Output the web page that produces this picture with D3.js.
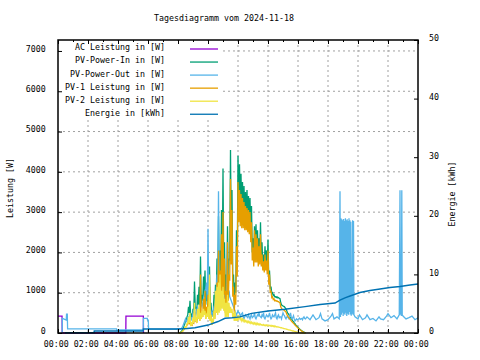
<!DOCTYPE html>
<html><head><meta charset="utf-8">
<script src="https://cdn.jsdelivr.net/npm/d3@7"></script>
<style>
body{margin:0;background:#fff}
text{font-family:"DejaVu Sans Mono",monospace;font-size:8.3px;fill:#000}
</style>
</head><body>
<svg id="c" width="480" height="360"></svg>
<script>
const title = "Tagesdiagramm vom 2024-11-18";
const yAxisTitle = "Leistung [W]";
const y2AxisTitle = "Energie [kWh]";
const seriesNames = ["AC Leistung in [W]","PV-Power-In in [W]","PV-Power-Out in [W]","PV-1 Leistung in [W]","PV-2 Leistung in [W]","Energie in [kWh]"];
const seriesColors = ["#9400d3","#009e73","#56b4e9","#e69f00","#f0e442","#0072b2"];
const xTickHours = [0,2,4,6,8,10,12,14,16,18,20,22,24];
const xTickLabels = ["00:00","02:00","04:00","06:00","08:00","10:00","12:00","14:00","16:00","18:00","20:00","22:00","00:00"];
const xMinorHours = [1,3,5,7,9,11,13,15,17,19,21,23];
const yTicks = [0,1000,2000,3000,4000,5000,6000,7000];
const y2Ticks = [0,10,20,30,40,50];

// daytime samples on the full tenths (hours)
const dayHours = [8.0,8.1,8.2,8.3,8.4,8.5,8.6,8.7,8.8,8.9,
 9.0,9.1,9.2,9.3,9.4,9.5,9.6,9.7,9.8,9.9,
 10.0,10.1,10.2,10.3,10.4,10.5,10.6,10.7,10.8,10.9,
 11.0,11.1,11.2,11.3,11.4,11.5,11.6,11.7,11.8,11.9,
 12.0,12.1,12.2,12.3,12.4,12.5,12.6,12.7,12.8,12.9,
 13.0,13.1,13.2,13.3,13.4,13.5,13.6,13.7,13.8,13.9,
 14.0,14.1,14.2,14.3,14.4,14.5,14.6,14.7,14.8,14.9,
 15.0,15.1,15.2,15.3,15.4,15.5,15.6,15.7,15.8,15.9,
 16.0,16.1,16.2,16.3,16.4,16.5];
const pvInDay = [0,0,30,80,180,300,400,650,800,450,
 600,1280,650,950,1150,1900,950,1400,1550,1050,
 1550,1650,750,550,950,1200,1850,2900,2050,3050,
 4080,2250,1450,2650,1850,4540,3550,1450,1250,2550,
 4400,4190,3950,3750,3650,3500,3550,3400,3350,3150,
 2350,2650,2700,2550,2350,2750,2250,1950,2150,2050,
 2320,1550,1150,1000,950,900,900,880,850,700,
 670,650,600,500,450,380,330,280,230,180,
 140,100,70,40,20,0];
const pv1Day = [0,0,15,40,90,150,200,300,350,230,
 270,550,300,400,500,1450,450,850,1050,650,
 950,1150,450,300,550,750,1250,2050,1550,2450,
 3000,1850,1050,2250,1450,3820,3050,1150,950,2150,
 3750,3550,3450,3350,3250,3150,3100,3050,3000,2750,
 2120,2550,2450,2350,2150,2450,1950,1780,1950,1800,
 2050,1450,1050,900,850,810,800,780,750,610,
 580,560,520,430,380,330,280,240,200,160,
 120,90,60,35,15,0];
const pv2Day = [0,0,15,40,100,160,230,400,500,270,
 380,750,400,600,700,500,550,600,550,450,
 650,1450,450,350,550,1050,1150,1250,1450,1050,
 1150,850,750,950,750,650,600,500,550,400,
 450,400,370,350,330,310,300,290,280,270,
 260,250,250,240,230,220,210,210,200,200,
 200,190,190,180,180,170,160,150,140,130,
 120,110,100,90,80,70,60,50,40,30,
 20,10,5,0,0,0];
const pvOutDay = [100,100,110,150,250,350,300,400,450,350,
 500,600,450,650,550,750,650,850,1050,1250,
 2590,750,550,500,650,850,1450,3520,1250,1550,
 1050,950,750,2250,1050,850,750,650,550,450,
 550,500,450,500,350,450,400,450,350,450,
 400,500,350,450,500,400,450,500,350,450,
 400,500,350,450,400,500,350,450,400,350,
 500,430,350,400,350,500,350,430,300,350,
 330,370,350,330,400,350];

// daytime samples in between (the dips of the fluctuating power)
const midHours = [8.05,8.15,8.25,8.35,8.45,8.55,8.65,8.75,8.85,8.95,
 9.05,9.15,9.25,9.35,9.45,9.55,9.65,9.75,9.85,9.95,
 10.05,10.15,10.25,10.35,10.45,10.55,10.65,10.75,10.85,10.95,
 11.05,11.15,11.25,11.35,11.45,11.55,11.65,11.75,11.85,11.95,
 12.05,12.15,12.25,12.35,12.45,12.55,12.65,12.75,12.85,12.95,
 13.05,13.15,13.25,13.35,13.45,13.55,13.65,13.75,13.85,13.95,
 14.05,14.15,14.25,14.35,14.45,14.55,14.65,14.75,14.85,14.95,
 15.05,15.15,15.25,15.35,15.45,15.55,15.65,15.75,15.85,15.95,
 16.05,16.15,16.25,16.35,16.45];
const pvInMid = [0,10,50,120,220,300,450,500,350,400,
 500,600,500,700,600,700,800,900,700,800,
 700,600,400,500,700,900,1100,1300,1500,1600,
 1500,900,1000,1200,1800,2200,1300,800,1000,1800,
 3100,3000,2900,2900,2850,2850,2800,2700,2500,2000,
 1800,1900,1900,1800,1850,1800,1700,1650,1700,1600,
 1300,1100,980,930,900,880,870,860,750,680,
 660,620,550,480,400,350,300,250,200,160,
 120,85,55,30,10];
const pv1Mid = [0,5,25,60,110,150,220,250,180,200,
 250,300,250,350,300,350,400,450,350,400,
 350,300,200,250,350,500,650,800,900,1000,
 950,500,600,800,1300,1700,900,500,700,1400,
 2750,2650,2600,2600,2550,2550,2500,2450,2250,1800,
 1650,1750,1750,1650,1700,1650,1550,1500,1550,1450,
 1200,1000,880,830,800,790,780,760,650,590,
 570,540,470,400,350,300,260,220,180,140,
 100,75,45,25,8];
const pv2Mid = [0,5,25,60,110,150,230,250,170,200,
 250,300,250,350,300,350,400,450,350,400,
 350,300,200,250,350,500,450,500,550,600,
 550,400,400,400,500,500,400,300,300,300,
 350,330,300,290,280,270,260,250,240,230,
 220,215,210,205,200,195,190,185,180,180,
 180,170,165,160,155,150,145,140,130,120,
 110,100,90,80,70,60,50,40,30,20,
 15,8,2,0,0];
const pvOutMid = [100,100,120,200,300,280,350,400,300,400,
 550,500,550,600,650,700,750,950,1100,800,
 900,600,450,550,700,1000,1200,1100,1300,1200,
 1000,800,1200,900,900,800,700,600,500,500,
 500,400,480,400,400,420,380,400,420,380,
 420,380,400,430,420,380,420,380,400,420,
 430,400,380,420,450,380,420,380,400,430,
 450,380,400,380,420,400,380,350,320,330,
 350,340,360,380,360];

// [hour, W]
const pvOutNight = [[0.28,0],[0.29,365],[0.55,320],[0.57,470],[0.62,470],[0.64,100],[3.9,100],[3.92,75],[5.68,75],[5.7,365],[5.95,365],[5.97,320],[6.02,320],[6.04,95],[7.9,95]];
const pvOutEvening = [[16.6,400],[16.8,330],[17.0,450],[17.2,330],[17.4,380],[17.5,480],[17.6,350],[17.8,300],[18.0,330],[18.2,420],[18.3,480],[18.4,350],[18.6,400],[18.75,350],
 [18.80,3520],[18.83,400],[18.86,2850],[18.89,450],[18.92,2820],[18.95,500],[18.98,2800],[19.01,420],[19.04,2830],[19.07,480],[19.10,2780],[19.13,450],[19.16,2850],[19.19,500],[19.22,2800],[19.25,420],[19.28,2820],[19.31,480],[19.34,2780],[19.37,450],[19.40,2850],[19.43,520],[19.46,2800],[19.49,460],[19.52,2760],[19.55,430],[19.58,1620],[19.61,480],[19.64,2800],[19.67,450],[19.70,2780],[19.73,450],
 [19.8,400],[20.0,350],[20.1,450],[20.3,330],[20.5,380],[20.6,450],[20.8,330],[21.0,360],[21.2,300],[21.4,400],[21.5,350],[21.7,330],[21.9,420],[22.0,480],[22.2,380],[22.4,430],[22.6,350],[22.75,450],
 [22.80,3540],[22.83,450],[22.86,1950],[22.89,420],[22.92,3540],[22.95,450],
 [23.0,420],[23.2,350],[23.4,380],[23.6,420],[23.8,330],[24.0,380]];
const acPairs = [[0,420],[0.27,420],[0.28,0],[4.52,0],[4.53,420],[5.69,420],[5.7,0]];
// [hour, kWh]
const energyPairs = [[0.47,0.05],[2.4,0.05],[2.42,0.35],[5.67,0.35],[5.69,0.7],[8.0,0.7],[8.6,0.75],[9.13,0.9],[10.0,1.35],[10.67,1.95],[11.13,2.5],[11.6,2.6],[12.13,2.75],[12.91,3.35],[14.0,3.75],[15.13,4.05],[16.47,4.5],[17.47,4.85],[18.47,5.1],[18.8,5.6],[19.13,6.0],[19.47,6.3],[20.13,6.9],[20.8,7.25],[21.47,7.5],[22.13,7.75],[22.8,7.95],[23.47,8.2],[24.0,8.35]];

const svg = d3.select("#c");
const L=58, R=418, T=40, B=333;
const x = d3.scaleLinear().domain([0,24]).range([L,R]);
const y = d3.scaleLinear().domain([0,7272]).range([B,T]);
const y2 = d3.scaleLinear().domain([0,50]).range([B,T]);

// grid
const grid = svg.append("g").attr("stroke","#a0a0a0").attr("stroke-width",1).attr("stroke-dasharray","2,3");
grid.selectAll("line.v").data(xTickHours.filter(h=>h>0&&h<24)).join("line")
  .attr("x1",d=>x(d)).attr("x2",d=>x(d)).attr("y1",T).attr("y2",B);
grid.selectAll("line.h").data(yTicks.filter(v=>v>0)).join("line")
  .attr("x1",L).attr("x2",R).attr("y1",d=>y(d)).attr("y2",d=>y(d));

// legend background
svg.append("rect").attr("x",L+1).attr("y",T+1).attr("width",164).attr("height",78).attr("fill","#fff");

// data
const pair = d3.line().x(d=>x(d[0])).y(d=>y(d[1]));
const pairE = d3.line().x(d=>x(d[0])).y(d=>y2(d[1]));
const zipDay = (hi,lo) => dayHours.map((h,i)=>[h,hi[i]])
  .concat(midHours.map((h,i)=>[h,lo[i]])).sort((a,b)=>a[0]-b[0]);
const seriesData = [
  acPairs,
  zipDay(pvInDay,pvInMid),
  pvOutNight.concat(zipDay(pvOutDay,pvOutMid), pvOutEvening),
  zipDay(pv1Day,pv1Mid),
  zipDay(pv2Day,pv2Mid)
];
const plot = svg.append("g");
seriesData.forEach((d,i)=>{
  plot.append("path").datum(d).attr("d",pair).attr("fill","none")
    .attr("stroke",seriesColors[i]).attr("stroke-width",1.3).attr("stroke-linejoin","miter");
});
plot.append("path").datum(energyPairs).attr("d",pairE).attr("fill","none")
  .attr("stroke",seriesColors[5]).attr("stroke-width",1.5);

// legend
const lg = svg.append("g");
seriesNames.forEach((n,i)=>{
  const ly = 49 + 13.05*i;
  lg.append("text").attr("x",165).attr("y",ly-1.5).attr("dy","0.35em").attr("text-anchor","end").text(n);
  lg.append("line").attr("x1",190).attr("x2",218).attr("y1",ly).attr("y2",ly)
    .attr("stroke",seriesColors[i]).attr("stroke-width",1.3);
});

// border
svg.append("rect").attr("x",L).attr("y",T).attr("width",R-L).attr("height",B-T)
  .attr("fill","none").attr("stroke","#000").attr("stroke-width",1.5);

// axes
function styleAxis(g){ g.select(".domain").remove(); g.selectAll(".tick line").attr("stroke","#000"); g.attr("font-size",null).attr("font-family",null); }
const ax = svg.append("g").attr("transform",`translate(0,${B})`)
  .call(d3.axisBottom(x).tickValues(xTickHours).tickSize(-4).tickFormat((d,i)=>xTickLabels[i]));
styleAxis(ax);
ax.selectAll("text").attr("y",11).attr("dy","0.35em").attr("x",-2.3);
const axm = svg.append("g").attr("transform",`translate(0,${B})`)
  .call(d3.axisBottom(x).tickValues(xMinorHours).tickSize(-2).tickFormat(""));
styleAxis(axm);
const at = svg.append("g").attr("transform",`translate(0,${T})`)
  .call(d3.axisTop(x).tickValues(xTickHours).tickSize(-4).tickFormat(""));
styleAxis(at);
const atm = svg.append("g").attr("transform",`translate(0,${T})`)
  .call(d3.axisTop(x).tickValues(xMinorHours).tickSize(-2).tickFormat(""));
styleAxis(atm);
const ay = svg.append("g").attr("transform",`translate(${L},0)`)
  .call(d3.axisLeft(y).tickValues(yTicks).tickSize(-4).tickFormat(d=>String(d)));
styleAxis(ay);
ay.selectAll("text").attr("x",-12.3).attr("y",-2.7).attr("dy","0.35em");
const ay2 = svg.append("g").attr("transform",`translate(${R},0)`)
  .call(d3.axisRight(y2).tickValues(y2Ticks).tickSize(-4).tickFormat(d=>String(d)));
styleAxis(ay2);
ay2.selectAll("text").attr("x",11).attr("y",-2).attr("dy","0.35em");
svg.selectAll(".tick text").attr("fill","#000");

// titles
svg.append("text").attr("x",224).attr("y",18).attr("dy","0.35em").attr("text-anchor","middle").text(title);
svg.append("text").attr("transform","translate(10,188) rotate(-90)").attr("dy","0.35em").attr("text-anchor","middle").text(yAxisTitle);
svg.append("text").attr("transform","translate(452,194) rotate(-90)").attr("dy","0.35em").attr("text-anchor","middle").text(y2AxisTitle);
</script>
</body></html>
